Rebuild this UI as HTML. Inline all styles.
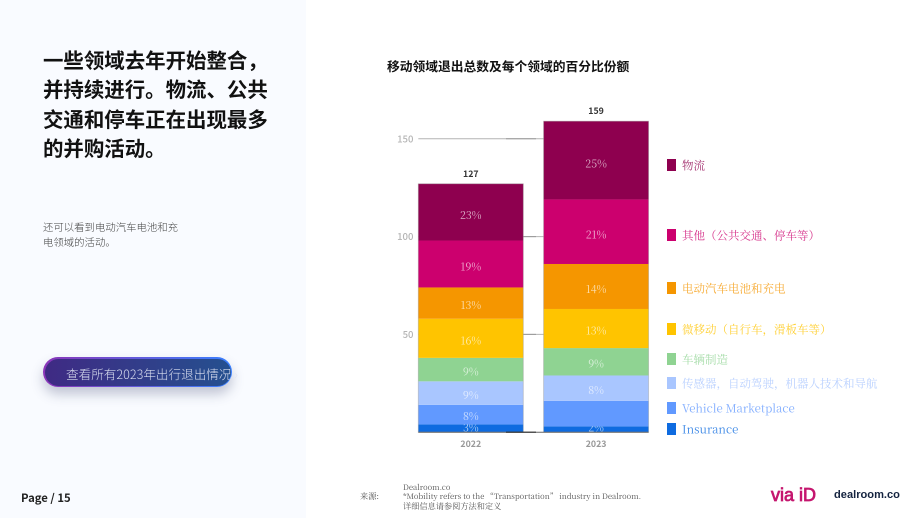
<!DOCTYPE html>
<html lang="zh">
<head>
<meta charset="utf-8">
<title>移动领域退出总数</title>
<style>
html,body{margin:0;padding:0;background:#fff;}
#page{position:relative;width:920px;height:518px;overflow:hidden;background:#fff;font-family:"Liberation Sans","Noto Sans CJK SC",sans-serif;}
#side{position:absolute;left:0;top:0;width:306px;height:518px;background:#f9fbff;}
.abs{position:absolute;white-space:nowrap;}
#heading{left:43px;top:45px;font:700 20.45px/29.4px "Noto Sans CJK SC",sans-serif;color:#111;}
#sub{left:43px;top:219px;font:300 10.4px/15px "Noto Sans CJK SC",sans-serif;color:#444;}
#btn{left:43px;top:357px;width:189px;height:30px;box-sizing:border-box;border-radius:15px;background:linear-gradient(90deg,#8a35b8,#3a80ff);box-shadow:0 7px 12px rgba(60,70,110,.3);}
#btn-in{position:absolute;left:1.5px;top:1.5px;right:1.5px;bottom:1.5px;border-radius:14px;background:linear-gradient(90deg,#3f2a84,#25508f);}
#btn-text{left:66px;top:364px;font:300 12.6px/19px "Noto Sans CJK SC",sans-serif;color:#d9deef;}
#page-no{left:21px;top:489.5px;font:700 11.3px/16px "Noto Sans CJK SC",sans-serif;color:#222;}
#foot{left:403px;top:482.5px;font:7.6px/9.7px "Noto Serif CJK SC",serif;color:#555;}
#foot-label{left:360px;top:492px;font:8.2px/10px "Noto Serif CJK SC",serif;color:#555;}
#logo-via{left:771px;top:482px;font:400 18px/26px "Liberation Sans",sans-serif;color:#c5176f;-webkit-text-stroke:.8px #c5176f;}
#logo-deal{left:834px;top:487px;font:700 11.1px/16px "Liberation Sans",sans-serif;color:#14233f;}
svg{position:absolute;left:0;top:0;}
</style>
</head>
<body>
<div id="page">
  <div id="side"></div>
  <div id="heading" class="abs">一些领域去年开始整合，<br>并持续进行。物流、公共<br>交通和停车正在出现最多<br>的并购活动。</div>
  <div id="sub" class="abs">还可以看到电动汽车电池和充<br>电领域的活动。</div>
  <div id="btn" class="abs"><div id="btn-in"></div></div>
  <div id="btn-text" class="abs">查看所有2023年出行退出情况 <span style="opacity:.55">›</span></div>
  <div id="page-no" class="abs">Page / 15</div>
  <div id="foot-label" class="abs">来源:</div>
  <div id="foot" class="abs">Dealroom.co<br>*Mobility refers to the “Transportation” industry in Dealroom.<br><span style="font-size:8.2px">详细信息请参阅方法和定义</span></div>
  <div id="logo-via" class="abs">via iD</div>
  <div id="logo-deal" class="abs">dealroom.co</div>
  <svg id="chart" width="920" height="518" viewBox="0 0 920 518">
    <text x="387" y="71" font-family="Noto Sans CJK SC, sans-serif" font-weight="700" font-size="12.75" fill="#111">移动领域退出总数及每个领域的百分比份额</text>
  </svg>
</div>
<script>
const years = ['2022', '2023'];
const categories = ['Insurance', 'Vehicle Marketplace', '传感器，自动驾驶，机器人技术和导航', '车辆制造', '微移动（自行车，滑板车等）', '电动汽车电池和充电', '其他（公共交通、停车等）', '物流'];
const values2022 = [4, 10, 12, 12, 20, 16, 24, 29];
const values2023 = [3, 13, 13, 14, 20, 23, 33, 40];
const percents2022 = ['3%', '8%', '9%', '9%', '16%', '13%', '19%', '23%'];
const percents2023 = ['2%', '', '8%', '9%', '13%', '14%', '21%', '25%'];
const totals = [127, 159];
const yTicks = [50, 100, 150];
const colors = ['#0e6be0', '#6199ff', '#a9c6ff', '#8fd392', '#ffc400', '#f59600', '#cc006e', '#8e004f'];

const svgNS = 'http://www.w3.org/2000/svg';
const svg = document.getElementById('chart');
const y0 = 432.2, pxPerUnit = 1.956;
const barLeft = 418.3, barWidth = 105, barStep = 125.3;
const yScale = v => y0 - v * pxPerUnit;
const xScale = i => barLeft + i * barStep;
const sans = 'Noto Sans CJK SC, sans-serif';
const serif = 'Noto Serif CJK SC, serif';

function make(tag, attrs, text) {
  const el = document.createElementNS(svgNS, tag);
  for (const k in attrs) el.setAttribute(k, attrs[k]);
  if (text !== undefined) el.textContent = text;
  svg.appendChild(el);
  return el;
}

// gridlines and tick labels
yTicks.forEach(t => {
  const y = yScale(t);
  const grid = make('line', {x1: xScale(0), x2: xScale(1), y1: y, y2: y, stroke: '#b4b4b4', 'stroke-width': 1});
  
  
  const dark = make('line', {x1: 506, x2: 536, y1: y, y2: y, stroke: '#999', 'stroke-width': 1});
  
  
  const lab = make('text', {x: 413.5, y: y + 3.5, 'text-anchor': 'end', 'font-family': sans, 'font-weight': 500, 'font-size': 9.6, fill: '#b5b5b5'}, String(t));
  
  
});

// stacked bars
[values2022, values2023].forEach((vals, i) => {
  const pcts = i === 0 ? percents2022 : percents2023;
  const x = xScale(i);
  let cum = 0;
  vals.forEach((v, s) => {
    const top = yScale(cum + v), bottom = yScale(cum);
    const r = make('rect', {x: x, y: top, width: barWidth, height: bottom - top, fill: colors[s]});
    
    
    if (pcts[s]) {
      const t = make('text', {x: x + barWidth / 2, y: Math.min((top + bottom) / 2 + 5 + (bottom - top) * 0.03, y0 - 0.5), 'text-anchor': 'middle', 'font-family': serif, 'font-size': 10.6, fill: '#fff', 'fill-opacity': .68}, pcts[s]);
      
      
    }
    cum += v;
  });
  const outline = make('rect', {x: x, y: yScale(cum), width: barWidth, height: y0 - yScale(cum), fill: 'none', stroke: '#999', 'stroke-opacity': .45, 'stroke-width': .9});
  
  
  const total = make('text', {x: x + barWidth / 2, y: yScale(totals[i]) - 7, 'text-anchor': 'middle', 'font-family': sans, 'font-weight': 700, 'font-size': 8.8, fill: '#333'}, String(totals[i]));
  
  
  const yl = make('text', {x: x + barWidth / 2, y: 447, 'text-anchor': 'middle', 'font-family': sans, 'font-weight': 700, 'font-size': 8.8, fill: '#999'}, years[i]);
  
  
});

// baseline
const base = make('line', {x1: xScale(0), x2: xScale(1) + barWidth, y1: y0, y2: y0, stroke: '#666', 'stroke-width': 1});


const baseAccent = make('line', {x1: 506, x2: 536, y1: y0, y2: y0, stroke: '#333', 'stroke-width': 1.2});



// legend
const legendRows = [429, 408, 383, 359, 329, 288, 235, 165];
categories.forEach((c, i) => {
  const sw = make('rect', {x: 667, y: legendRows[i] - 6, width: 9, height: 12, fill: colors[i]});
  
  
  const t = make('text', {x: 682, y: legendRows[i] + 4.6, 'font-family': serif, 'font-size': /^[A-Z]/.test(c) ? 11.4 : 11.5, fill: colors[i], 'fill-opacity': .8}, c);
  
  
});
</script>
</body>
</html>
